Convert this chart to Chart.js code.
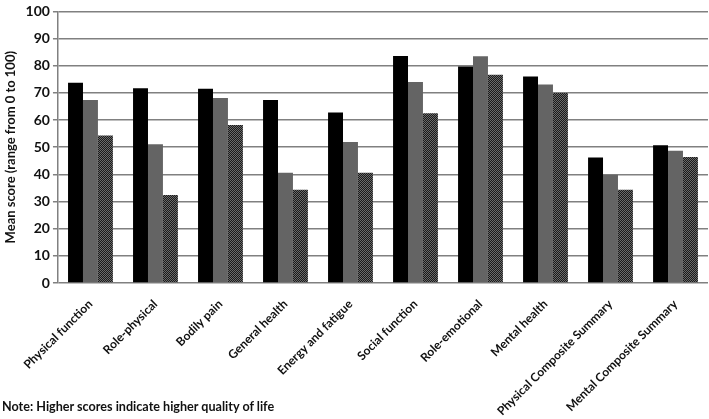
<!DOCTYPE html>
<html>
<head>
<meta charset="utf-8">
<script src="https://cdn.jsdelivr.net/npm/chart.js@4/dist/chart.umd.min.js"></script>
<style>
  html, body { margin: 0; padding: 0; background: #fff; }
  #wrap { position: relative; width: 709px; height: 419px; }
  #note { position: absolute; left: 2px; top: 399px; font: bold 12.6px Lato, sans-serif; color: #111; white-space: nowrap; }
</style>
</head>
<body>
<div id="wrap">
  <canvas id="c" width="709" height="419"></canvas>
  <div id="note">Note: Higher scores indicate higher quality of life</div>
</div>
<script>
const categories = ["Physical function", "Role-physical", "Bodily pain", "General health", "Energy and fatigue", "Social function", "Role-emotional", "Mental health", "Physical Composite Summary", "Mental Composite Summary"];
const series1 = [73.7, 71.7, 71.5, 67.4, 62.8, 83.6, 79.7, 76.0, 46.2, 50.7];
const series2 = [67.4, 51.1, 68.1, 40.6, 51.9, 74.0, 83.5, 73.1, 39.9, 48.7];
const series3 = [54.3, 32.4, 58.2, 34.3, 40.6, 62.5, 76.7, 70.0, 34.3, 46.4];
const yTicks = [0, 10, 20, 30, 40, 50, 60, 70, 80, 90, 100];

function makePattern() {
  const p = document.createElement('canvas');
  p.width = 2; p.height = 2;
  const g = p.getContext('2d');
  g.fillStyle = '#1a1a1a'; g.fillRect(0, 0, 2, 2);
  g.fillStyle = '#6a6a6a'; g.fillRect(0, 0, 1, 1); g.fillRect(1, 1, 1, 1);
  return document.getElementById('c').getContext('2d').createPattern(p, 'repeat');
}

const font = { family: 'Lato, sans-serif', weight: 'bold' };

new Chart(document.getElementById('c'), {
  type: 'bar',
  data: {
    labels: categories,
    datasets: [
      { data: series1, backgroundColor: '#000000', categoryPercentage: 0.69, barPercentage: 1 },
      { data: series2, backgroundColor: '#646464', categoryPercentage: 0.69, barPercentage: 1 },
      { data: series3, backgroundColor: makePattern(), categoryPercentage: 0.69, barPercentage: 1 }
    ]
  },
  options: {
    responsive: false,
    animation: false,
    layout: { padding: { top: 5, right: 1, left: 3, bottom: 0 } },
    plugins: { legend: { display: false }, tooltip: { enabled: false } },
    scales: {
      x: {
        grid: { display: false, drawTicks: false },
        border: { display: false },
        afterFit: (s) => { s.height = 136; },
        ticks: { color: '#111', font: { ...font, size: 12 }, minRotation: 45, maxRotation: 45, padding: 14 }
      },
      y: {
        min: 0, max: 100,
        afterBuildTicks: (ax) => { ax.ticks = yTicks.map(v => ({ value: v })); },
        grid: { color: '#808080', lineWidth: 1.5, tickLength: 5 },
        border: { color: '#808080', width: 1.5 },
        ticks: { color: '#111', font: { ...font, size: 14 }, padding: 3 },
        title: { display: true, text: 'Mean score (range from 0 to 100)', color: '#111', font: { ...font, size: 13 }, padding: { top: 0, bottom: 4 } }
      }
    }
  }
});
</script>
</body>
</html>
